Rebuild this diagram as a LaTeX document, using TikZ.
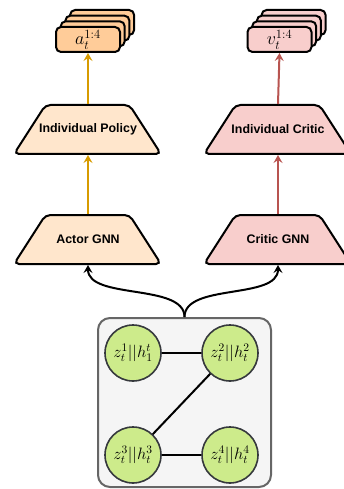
\RequirePackage{fix-cm}
\documentclass[tikz,border=0pt]{standalone}
\usepackage{fontspec}
\setsansfont{Liberation Sans}
\usetikzlibrary{arrows.meta}
\definecolor{actfill}{HTML}{FFE6CC}
\definecolor{actstack}{HTML}{FFCC99}
\definecolor{crifill}{HTML}{F8CECC}
\definecolor{actline}{HTML}{D79B00}
\definecolor{criline}{HTML}{B85450}
\definecolor{groupfill}{HTML}{F5F5F5}
\definecolor{groupline}{HTML}{666666}
\definecolor{agentfill}{HTML}{CDEB8B}
\definecolor{agentline}{HTML}{36393D}
% trapezoid body of a network block: centre x, centre y, fill colour
\newcommand\netshape[3]{%
  \draw[netline, fill=#3] ({#1-73.5},{#2+24.5}) -- ({#1-42},{#2-24.5})
    -- ({#1+42},{#2-24.5}) -- ({#1+73.5},{#2+24.5}) -- cycle;}
\begin{document}
\begin{tikzpicture}[x=1pt,y=-1pt,
  netline/.style={draw=black, line width=2pt, rounded corners=5pt},
  netlabel/.style={minimum height=51pt, inner sep=0pt, outer sep=0pt,
    font=\sffamily\bfseries\fontsize{12.4}{14}\selectfont},
  stack/.style={draw=black, line width=2pt, rounded corners=5pt,
    minimum width=64pt, minimum height=25pt, inner sep=0pt,
    font=\fontsize{18}{21}\selectfont},
  group/.style={draw=groupline, fill=groupfill, line width=2pt,
    rounded corners=12pt, minimum width=173pt, minimum height=169pt},
  agent/.style={circle, draw=agentline, fill=agentfill, line width=1.6pt,
    minimum size=56pt, inner sep=0pt, font=\fontsize{16.5}{19}\selectfont},
  link/.style={line width=2pt, draw=black},
  flow/.style={line width=2pt, -{Stealth[length=8pt,width=9pt,inset=3pt]}},
]
\useasboundingbox (0,0) rectangle (344,489);

% actor output stack
\foreach \k in {3,2,1}
  \node[stack, fill=actstack] (astack\k) at ({88+4.7*\k},{39.5-5.67*\k}) {};
\node[stack, fill=actstack] (aout) at (88,39.5) {$a_t^{1:4}$};

% critic output stack
\foreach \k in {3,2,1}
  \node[stack, fill=crifill] (vstack\k) at ({279.5+4.7*\k},{39.5-5.67*\k}) {};
\node[stack, fill=crifill] (vout) at (279.5,39.5) {$v_t^{1:4}$};

% heads and graph networks
\netshape{87.5}{129.5}{actfill}
\netshape{277.5}{129.5}{crifill}
\netshape{87.5}{239.5}{actfill}
\netshape{277.5}{239.5}{crifill}
\node[netlabel] (apol) at (88,129.5) {Individual Policy};
\node[netlabel] (ccrit) at (278,129.5) {Individual Critic};
\node[netlabel] (agnn) at (88,239.5) {Actor GNN};
\node[netlabel] (cgnn) at (278,239.5) {Critic GNN};

% agent graph
\node[group] (grp) at (184.5,402.5) {};
\node[agent] (g1) at (133,353) {$z_t^1||h_1^t$};
\node[agent] (g2) at (230,353) {$z_t^2||h_t^2$};
\node[agent] (g3) at (133,455) {$z_t^3||h_t^3$};
\node[agent] (g4) at (230,455) {$z_t^4||h_t^4$};
\draw[link] (g1) -- (g2);
\draw[link] (g2) -- (g3);
\draw[link] (g3) -- (g4);

% data flow
\draw[flow] (grp.north) .. controls (184.5,283) and (88,300) .. (agnn.south);
\draw[flow] (grp.north) .. controls (184.5,283) and (278,300) .. (cgnn.south);
\draw[flow, draw=actline, fill=actline] (agnn.north) -- (apol.south);
\draw[flow, draw=actline, fill=actline] (apol.north) -- (aout.south);
\draw[flow, draw=criline, fill=criline] (cgnn.north) -- (ccrit.south);
\draw[flow, draw=criline, fill=criline] (ccrit.north) -- (vout.south);
\end{tikzpicture}
\end{document}
